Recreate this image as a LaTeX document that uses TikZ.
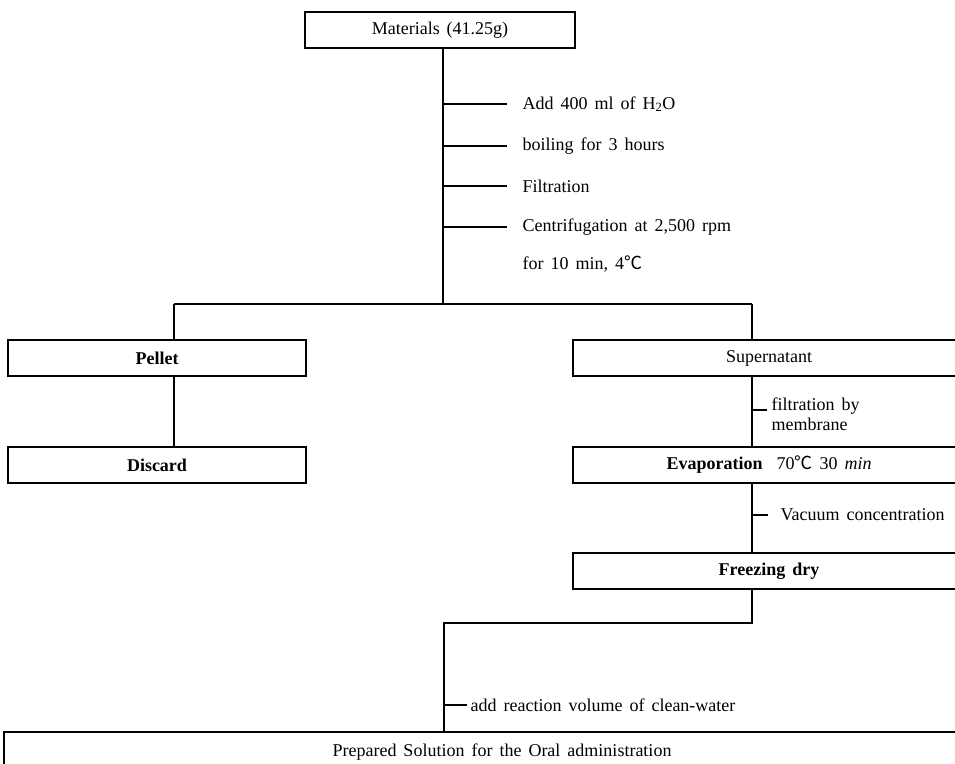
\documentclass[tikz,border=0pt]{standalone}
\usepackage{fontspec}
\setmainfont{Liberation Serif}
\newfontfamily\cjkfont{Noto Sans CJK KR}
\newcommand{\degC}{{\cjkfont ℃}}
\newcommand{\myfs}{\fontsize{18}{20}\selectfont\spaceskip=7pt plus 2pt minus 1pt\relax}
\begin{document}
\begin{tikzpicture}[x=1pt,y=-1pt, line width=1.1pt,
  box/.style={draw, rectangle, inner sep=0pt, minimum height=36pt, font=\myfs},
  boldbox/.style={box, font=\myfs\bfseries},
  lab/.style={anchor=west, inner sep=0pt, font=\myfs, align=left}]
\useasboundingbox (0,0) rectangle (955,763);
\clip (0,0) rectangle (955,763);

% boxes
\node[box, minimum width=270pt] (mat) at (440,30) {Materials (41.25g)};
\node[boldbox, minimum width=298pt] (pel) at (157,358) {Pellet};
\node[boldbox, minimum width=298pt] (dis) at (157,465) {Discard};
\node[box, minimum width=392pt] (sup) at (769,358) {Supernatant};
\node[box, minimum width=392pt] (eva) at (769,465) {\textbf{Evaporation}\ \ 70\degC\ 30 \textit{min}};
\node[boldbox, minimum width=392pt] (fre) at (769,571) {Freezing dry};
\node[box, minimum width=996pt, minimum height=40pt] (pre) at (502,752) {Prepared Solution for the Oral administration};

% trunk and step labels
\coordinate (j1) at (443,304);
\draw (j1 |- mat.south) -- (j1);
\coordinate (t1) at (443,104); \coordinate (e1) at (507,104);
\coordinate (t2) at (443,146); \coordinate (e2) at (507,146);
\coordinate (t3) at (443,186); \coordinate (e3) at (507,186);
\coordinate (t4) at (443,227); \coordinate (e4) at (507,227);
\node[lab] (l1) at (522,104) {Add 400 ml of H\textsubscript{2}O};
\node[lab] (l2) at (522,146) {boiling for 3 hours};
\node[lab] (l3) at (522,186) {Filtration};
\node[lab] (l4) at (522,227) {Centrifugation at 2,500 rpm};
\node[lab] (l4b) at (522,264) {for 10 min, 4\degC};
\draw (t1) -- (e1);
\draw (t2) -- (e2);
\draw (t3) -- (e3);
\draw (t4) -- (e4);

% branch
\coordinate (bl) at (174,304);
\coordinate (br) at (752,304);
\draw (bl) -- (br);
\draw (bl) -- (bl |- pel.north);
\draw (bl |- pel.south) -- (bl |- dis.north);
\draw (br) -- (br |- sup.north);
\draw (br |- sup.south) -- (br |- eva.north);
\draw (br |- eva.south) -- (br |- fre.north);

% right column labels
\coordinate (t5) at (752,410); \coordinate (e5) at (767,410);
\node[lab] (l5) at (771,414) {filtration by\\membrane};
\draw (t5) -- (e5);
\coordinate (t6) at (752,515); \coordinate (e6) at (768,515);
\node[lab] (l6) at (780,515) {Vacuum concentration};
\draw (t6) -- (e6);

% join to final
\coordinate (j2) at (752,623);
\coordinate (j3) at (444,623);
\draw (br |- fre.south) -- (j2) -- (j3) -- (j3 |- pre.north);
\coordinate (t7) at (444,705); \coordinate (e7) at (467,705);
\node[lab] (l7) at (470,705) {add reaction volume of clean-water};
\draw (t7) -- (e7);
\end{tikzpicture}
\end{document}
